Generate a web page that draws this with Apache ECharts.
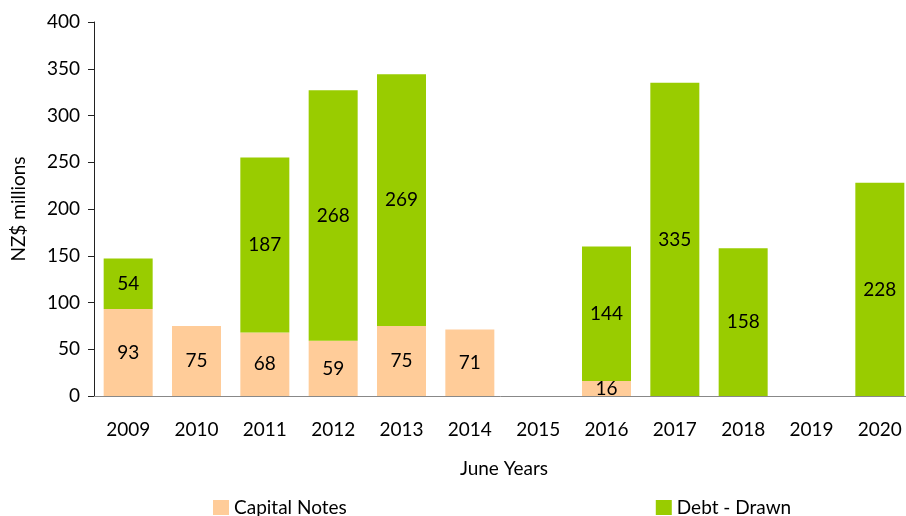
<!DOCTYPE html>
<html>
<head>
<meta charset="utf-8">
<script src="https://cdn.jsdelivr.net/npm/echarts@6/dist/echarts.min.js"></script>
<style>
  html, body { margin: 0; padding: 0; background: #fff; }
  #chart { width: 906px; height: 516px; }
</style>
</head>
<body>
<div id="chart"></div>
<script>
// 年份和两组数据
var years = ['2009', '2010', '2011', '2012', '2013', '2014', '2015', '2016', '2017', '2018', '2019', '2020'];
var capitalNotes = [93, 75, 68, 59, 75, 71, null, 16, null, null, null, null];
var debtDrawn = [54, null, 187, 268, 269, null, null, 144, 335, 158, null, 228];

var font = 'Lato';

var chart = echarts.init(document.getElementById('chart'));

var barLabel = {
    show: true,
    position: 'inside',
    color: '#000',
    fontFamily: font,
    fontSize: 19,
    formatter: function (p) {
        return p.value ? p.value : '';
    }
};

var option = {
    animation: false,
    backgroundColor: '#fff',
    textStyle: { fontFamily: font },
    grid: {
        left: 94,
        top: 22,
        width: 820,
        height: 374,
        containLabel: false,
        outerBoundsMode: 'none'
    },
    legend: {
        top: 493,
        left: 208,
        itemWidth: 16,
        itemHeight: 15,
        itemGap: 309,
        icon: 'rect',
        textStyle: { fontFamily: font, fontSize: 19, color: '#000' },
        data: ['Capital Notes', 'Debt - Drawn']
    },
    xAxis: {
        type: 'category',
        data: years,
        name: 'June Years',
        nameLocation: 'middle',
        nameGap: 63,
        nameTextStyle: { fontFamily: font, fontSize: 19, color: '#000' },
        axisLine: { lineStyle: { color: '#888' } },
        axisTick: { length: 6, lineStyle: { color: '#888' } },
        axisLabel: { margin: 24, fontFamily: font, fontSize: 19, color: '#000' }
    },
    yAxis: {
        type: 'value',
        min: 0,
        max: 400,
        interval: 50,
        name: 'NZ$ millions',
        nameLocation: 'middle',
        nameGap: 66,
        nameTextStyle: { fontFamily: font, fontSize: 19, color: '#000' },
        axisLine: { show: true, lineStyle: { color: '#222' } },
        axisTick: { show: true, length: 6, lineStyle: { color: '#222' } },
        axisLabel: { margin: 14, fontFamily: font, fontSize: 19, color: '#000' },
        splitLine: { show: false }
    },
    series: [
        {
            name: 'Capital Notes',
            type: 'bar',
            stack: 'total',
            barWidth: 49,
            itemStyle: { color: '#FFCC99' },
            label: barLabel,
            data: capitalNotes
        },
        {
            name: 'Debt - Drawn',
            type: 'bar',
            stack: 'total',
            barWidth: 49,
            itemStyle: { color: '#99CC00' },
            label: barLabel,
            data: debtDrawn
        }
    ]
};

chart.setOption(option);
</script>
</body>
</html>
